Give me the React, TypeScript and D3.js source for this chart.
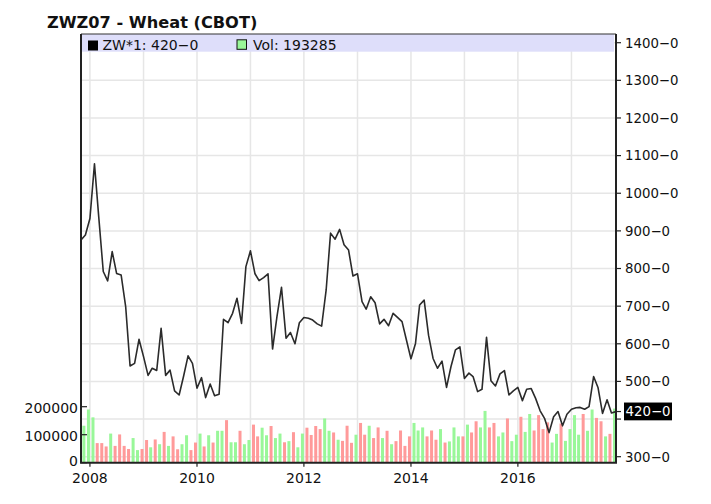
import React from 'react';
import * as d3 from 'd3';

// Monthly closes, Nov 2007 .. Nov 2017 (cents/bu)
const prices = [
  876, 889, 933, 1078, 938, 792, 767, 845, 787, 783,
  699, 541, 548, 612, 566, 516, 535, 529, 641, 516,
  530, 475, 464, 513, 568, 548, 482, 510, 457, 493,
  462, 466, 665, 656, 681, 721, 654, 805, 847, 786,
  768, 776, 786, 586, 672, 750, 615, 630, 600, 656,
  670, 668, 663, 653, 647, 743, 894, 878, 904, 863,
  849, 780, 786, 712, 692, 725, 709, 653, 665, 648,
  681, 670, 659, 610, 560, 601, 703, 716, 623, 561,
  535, 554, 484, 539, 584, 592, 508, 522, 513, 473,
  479, 617, 502, 488, 520, 529, 464, 475, 484, 449,
  479, 481, 455, 422, 402, 364, 406, 420, 382, 413,
  426, 430, 431, 426, 433, 513, 484, 415, 451, 416,
  420,
];

// Monthly volume, same months
const volumes = [
  150000, 132000, 190000, 162000, 70000, 70000, 58000, 104000, 60000, 101000,
  60000, 49000, 88000, 45000, 49000, 81000, 55000, 83000, 66000, 110000,
  60000, 94000, 48000, 66000, 98000, 45000, 72000, 104000, 58000, 98000,
  72000, 114000, 114000, 152000, 73000, 73000, 114000, 66000, 81000, 136000,
  94000, 125000, 98000, 131000, 88000, 104000, 73000, 77000, 109000, 55000,
  104000, 125000, 99000, 131000, 120000, 158000, 114000, 108000, 82000, 78000,
  132000, 71000, 100000, 142000, 100000, 132000, 88000, 126000, 88000, 114000,
  66000, 77000, 115000, 60000, 94000, 142000, 115000, 126000, 94000, 115000,
  82000, 120000, 72000, 76000, 126000, 94000, 94000, 136000, 108000, 148000,
  126000, 185000, 126000, 142000, 94000, 108000, 158000, 77000, 100000, 164000,
  110000, 174000, 115000, 170000, 120000, 144000, 72000, 103000, 140000, 78000,
  120000, 170000, 100000, 174000, 114000, 190000, 160000, 148000, 94000, 103000,
  193285,
];

const priceTicks = [300, 400, 500, 600, 700, 800, 900, 1000, 1100, 1200, 1300, 1400];
const priceTickLabels = [300, 500, 600, 700, 800, 900, 1000, 1100, 1200, 1300, 1400];
const volTicks = [0, 100000, 200000];
const yearLabels = [2008, 2010, 2012, 2014, 2016];
const gridYears = [2008, 2009, 2010, 2011, 2012, 2013, 2014, 2015, 2016, 2017];

const title = 'ZWZ07 - Wheat (CBOT)';
const symbol = 'ZW*1';

const FONT = '"DejaVu Sans", Verdana, sans-serif';

export default function App() {
  const W = 711;
  const H = 504;
  const left = 81;
  const right = 616;
  const top = 34;
  const bottom = 462.7;

  const months = d3.timeMonth.range(new Date(2007, 10, 1), new Date(2017, 11, 1));
  const x = d3
    .scaleTime()
    .domain([months[0], months[months.length - 1]])
    .range([left, right]);
  const y = d3.scaleLinear().domain([300, 1400]).range([456.7, 42.7]);
  const yv = d3.scaleLinear().domain([0, 200000]).range([bottom, bottom - 56]);

  const data = months.map((d, i) => ({ d, p: prices[i], v: volumes[i], up: i === 0 || prices[i] >= prices[i - 1] }));

  const line = d3
    .line<{ d: Date; p: number }>()
    .x((e) => x(e.d))
    .y((e) => y(e.p));

  const lastP = prices[prices.length - 1];
  const lastV = volumes[volumes.length - 1];
  const fmtP = (v: number) => `${v}\u22120`;

  return (
    <svg
      width={W}
      height={H}
      viewBox={`0 0 ${W} ${H}`}
      style={{ position: 'absolute', left: 0, top: 0, background: '#fff' }}
      fontFamily={FONT}
    >
      <defs>
        <clipPath id="plotClip">
          <rect x={left} y={top} width={right - left} height={bottom - top} />
        </clipPath>
      </defs>
      <rect x={0} y={0} width={W} height={H} fill="#fff" />

      <text x={47} y={27.6} fontSize={16.2} fontWeight="bold" fill="#111">
        {title}
      </text>

      {/* gridlines */}
      <g stroke="#e6e6e6" strokeWidth={1.5}>
        {priceTicks.map((t) => (
          <line key={'h' + t} x1={left} x2={right} y1={y(t)} y2={y(t)} />
        ))}
        {gridYears.map((yr) => {
          const xx = x(new Date(yr, 0, 1));
          return <line key={'v' + yr} x1={xx} x2={xx} y1={top} y2={bottom} />;
        })}
      </g>

      {/* legend band */}
      <rect x={left} y={top} width={right - left - 2} height={17.7} fill="#dedefa" />

      <g clipPath="url(#plotClip)">
        {data.map((e, i) => (
          <rect
            key={'b' + i}
            x={x(e.d) - 3}
            y={yv(e.v)}
            width={3}
            height={bottom - yv(e.v)}
            fill={e.up ? '#99f799' : '#ff9a9a'}
          />
        ))}
        <path d={line(data) || ''} fill="none" stroke="#2b2b2b" strokeWidth={1.6} strokeLinejoin="round" />
      </g>

      {/* legend */}
      <rect x={88} y={40.5} width={10} height={10} fill="#000" />
      <text x={102.5} y={49.8} fontSize={14} fill="#111">
        {`${symbol}: ${fmtP(lastP)}`}
      </text>
      <rect x={237} y={39.8} width={9.5} height={9.5} fill="#99f799" stroke="#111" strokeWidth={1} />
      <text x={253} y={49.8} fontSize={14} fill="#111">
        {`Vol: ${lastV}`}
      </text>

      {/* frame */}
      <line x1={left} x2={right} y1={top} y2={top} stroke="#333" strokeWidth={1.2} />
      <line x1={left} x2={left} y1={top} y2={bottom} stroke="#222" strokeWidth={2} />
      <line x1={right} x2={right} y1={top} y2={bottom} stroke="#222" strokeWidth={2} />
      <line x1={left - 1} x2={right + 1} y1={bottom} y2={bottom} stroke="#222" strokeWidth={2} />

      {/* right price axis */}
      <g>
        {priceTicks.map((t) => (
          <line key={'rt' + t} x1={right} x2={right + 5} y1={y(t)} y2={y(t)} stroke="#222" strokeWidth={1.2} />
        ))}
        {priceTickLabels.map((t) => (
          <text key={'rl' + t} x={625} y={y(t) + 4.8} fontSize={13.3} fill="#111">
            {fmtP(t)}
          </text>
        ))}
        <line x1={right} x2={right + 5} y1={y(lastP)} y2={y(lastP)} stroke="#222" strokeWidth={1.2} />
        <rect x={624} y={y(lastP) - 9} width={48} height={17.8} fill="#000" />
        <text x={625.5} y={y(lastP) + 4.8} fontSize={13.3} fill="#fff">
          {fmtP(lastP)}
        </text>
      </g>

      {/* left volume axis */}
      <g>
        {volTicks.map((t) => (
          <line key={'vt' + t} x1={left} x2={left + 6} y1={yv(t)} y2={yv(t)} stroke="#222" strokeWidth={1.2} />
        ))}
        {volTicks.map((t) => (
          <text key={'vl' + t} x={78} y={t === 0 ? yv(t) + 3.4 : yv(t) + 6} fontSize={14} textAnchor="end" fill="#111">
            {t}
          </text>
        ))}
      </g>

      {/* bottom time axis */}
      <g>
        {yearLabels.map((yr) => {
          const xx = x(new Date(yr, 0, 1));
          return (
            <g key={'x' + yr}>
              <line x1={xx} x2={xx} y1={bottom} y2={bottom + 4} stroke="#222" strokeWidth={1.2} />
              <text x={xx} y={482.6} fontSize={14} textAnchor="middle" fill="#111">
                {yr}
              </text>
            </g>
          );
        })}
      </g>
    </svg>
  );
}
